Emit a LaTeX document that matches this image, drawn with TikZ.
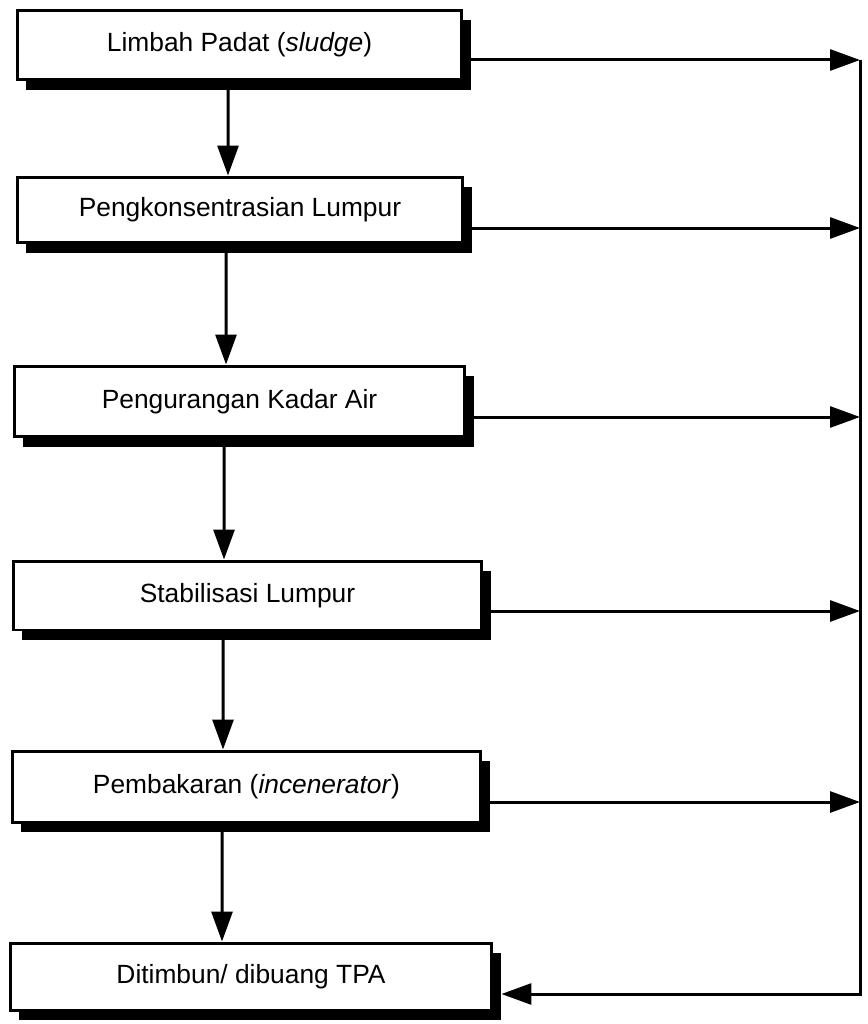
\documentclass[tikz,border=0pt]{standalone}
\usepackage{fontspec}
\setmainfont{Liberation Sans}
\usetikzlibrary{arrows.meta,shadows}

\begin{document}
\begin{tikzpicture}[x=0.02cm,y=-0.02cm,font=\fontsize{15}{18}\selectfont,
    tahap/.style={draw,line width=0.06cm,fill=white,inner sep=0pt,
      drop shadow={fill=black,opacity=1,shadow xshift=0.18cm,shadow yshift=-0.2cm}},
    garis/.style={line width=0.06cm},
    panah/.style={garis,-{Triangle[length=0.6cm,width=0.42cm]}}]
    \useasboundingbox (0,0) rectangle (868,1024);

    % Tahap pengolahan lumpur.
    \node[tahap,minimum width=8.90cm,minimum height=1.40cm] (b1) at (239.5,45) {Limbah Padat (\textit{sludge})};
    \node[tahap,minimum width=8.92cm,minimum height=1.32cm] (b2) at (240,210) {Pengkonsentrasian Lumpur};
    \node[tahap,minimum width=9.02cm,minimum height=1.42cm] (b3) at (239.5,401.5) {Pengurangan Kadar Air};
    \node[tahap,minimum width=9.38cm,minimum height=1.38cm] (b4) at (247.5,595.5) {Stabilisasi Lumpur};
    \node[tahap,minimum width=9.38cm,minimum height=1.42cm] (b5) at (246.5,786.5) {Pembakaran (\textit{incenerator})};
    \node[tahap,minimum width=9.64cm,minimum height=1.34cm] (b6) at (251,976.5) {Ditimbun/ dibuang TPA};

    % Alur utama ke bawah.
    \draw[panah] ([xshift=-0.23cm]b1.south) -- ([xshift=-0.24cm]b2.north);
    \draw[panah] ([xshift=-0.28cm]b2.south) -- ([xshift=-0.27cm]b3.north);
    \draw[panah] ([xshift=-0.31cm]b3.south) -- ([xshift=-0.47cm]b4.north);
    \draw[panah] ([xshift=-0.49cm]b4.south) -- ([xshift=-0.47cm]b5.north);
    \draw[panah] ([xshift=-0.49cm]b5.south) -- ([xshift=-0.58cm]b6.north);

    % Jalur samping menuju TPA.
    \coordinate (k1) at (860,60);
    \coordinate (k2) at (860,228);
    \coordinate (k3) at (860,417);
    \coordinate (k4) at (860,611);
    \coordinate (k5) at (860,802);
    \coordinate (kb) at (860,994);
    \draw[panah] (b1.east |- k1) -- (k1);
    \draw[panah] (b2.east |- k2) -- (k2);
    \draw[panah] (b3.east |- k3) -- (k3);
    \draw[panah] (b4.east |- k4) -- (k4);
    \draw[panah] (b5.east |- k5) -- (k5);
    \draw[panah,shorten >=0.16cm] (k1) -- (kb) -- (b6.east |- kb);
\end{tikzpicture}
\end{document}
